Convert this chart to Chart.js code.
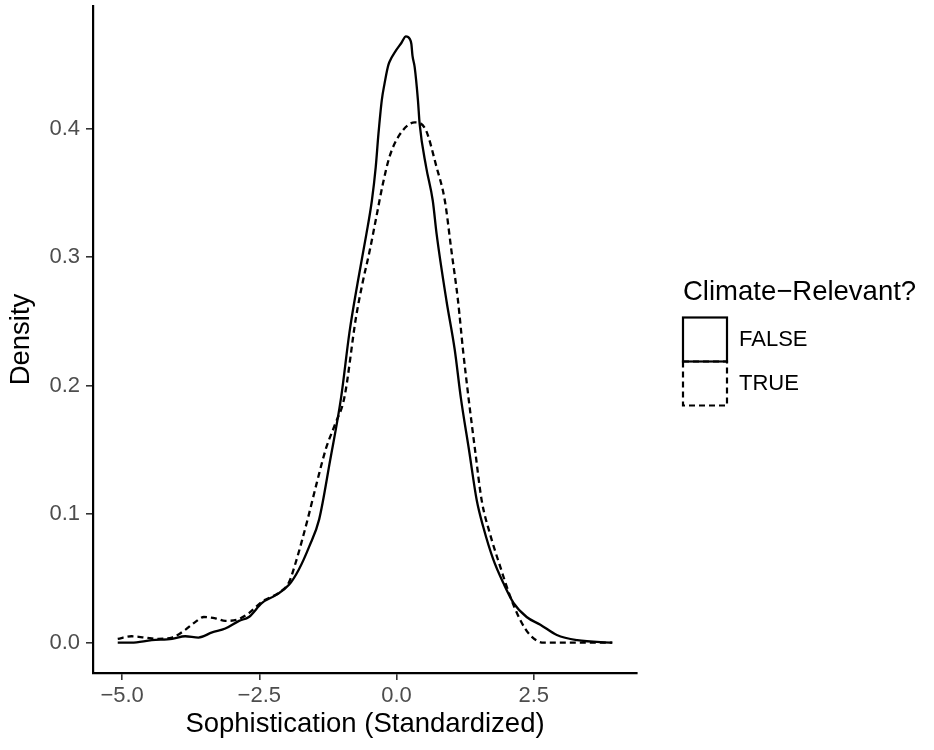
<!DOCTYPE html>
<html>
<head>
<meta charset="utf-8">
<script src="https://cdn.jsdelivr.net/npm/chart.js@4"></script>
<style>
  body { margin: 0; background: #fff; }
  #wrap { width: 934px; height: 750px; }
</style>
</head>
<body>
<div id="wrap"><canvas id="densityChart" width="934" height="750"></canvas></div>
<script>
// density estimates
const xFalse = [-5.08, -4.83, -4.46, -4.09, -3.85, -3.61, -3.36, -3.12, -2.87, -2.69, -2.45, -2.20, -1.96, -1.78, -1.59, -1.41,
  -1.21, -1.01, -0.86, -0.71, -0.55, -0.45, -0.38, -0.33, -0.27, -0.22, -0.16, -0.13, -0.01, 0.09, 0.17, 0.24, 0.27, 0.29,
  0.33, 0.39, 0.42, 0.54, 0.66, 0.73, 0.91, 1.06, 1.17, 1.32, 1.46, 1.58, 1.76, 1.95, 2.13, 2.37, 2.62, 2.92, 3.29, 3.93];
const yFalse = [0.000, 0.000, 0.002, 0.003, 0.005, 0.004, 0.008, 0.011, 0.017, 0.020, 0.031, 0.037, 0.045, 0.057, 0.075, 0.096,
  0.142, 0.191, 0.241, 0.280, 0.318, 0.344, 0.370, 0.396, 0.422, 0.435, 0.448, 0.452, 0.461, 0.467, 0.472, 0.470, 0.466, 0.457,
  0.448, 0.422, 0.404, 0.370, 0.344, 0.318, 0.266, 0.228, 0.191, 0.150, 0.111, 0.090, 0.065, 0.046, 0.031, 0.020, 0.014, 0.006, 0.002, 0.000];

const xTrue = [-5.08, -4.83, -4.58, -4.34, -4.09, -3.85, -3.67, -3.51, -3.30, -3.12, -2.90, -2.69, -2.45, -2.14, -1.96, -1.84,
  -1.72, -1.62, -1.45, -1.28, -1.12, -0.95, -0.74, -0.62, -0.49, -0.37, -0.25, -0.13, 0.05, 0.33, 0.51, 0.73, 0.88, 1.00,
  1.12, 1.21, 1.31, 1.43, 1.55, 1.70, 1.89, 2.07, 2.25, 2.43, 2.68, 2.98, 3.93];
const yTrue = [0.003, 0.005, 0.004, 0.003, 0.004, 0.010, 0.016, 0.020, 0.019, 0.017, 0.018, 0.023, 0.032, 0.039, 0.047, 0.062,
  0.080, 0.096, 0.125, 0.152, 0.170, 0.191, 0.253, 0.280, 0.305, 0.331, 0.357, 0.378, 0.395, 0.405, 0.401, 0.370, 0.344, 0.305,
  0.266, 0.228, 0.191, 0.150, 0.111, 0.085, 0.059, 0.036, 0.018, 0.006, 0.000, 0.000, 0.000];

const xTicks = [-5, -2.5, 0, 2.5];
const xTickLabels = ["\u22125.0", "\u22122.5", "0.0", "2.5"];
const yTicks = [0, 0.1, 0.2, 0.3, 0.4];
const yTickLabels = ["0.0", "0.1", "0.2", "0.3", "0.4"];

const FONT = "'Liberation Sans', Arial, Helvetica, sans-serif";

const toPoints = (xs, ys) => xs.map((x, i) => ({ x: x, y: ys[i] }));

// ggplot-style 5% expansion around the data range
const allX = xFalse.concat(xTrue);
const xLo = Math.min(...allX), xHi = Math.max(...allX);
const yHi = Math.max(...yFalse.concat(yTrue));
const xPad = (xHi - xLo) * 0.05;

const legendPlugin = {
  id: "ggLegend",
  afterDraw(chart) {
    const ctx = chart.ctx;
    const area = chart.chartArea;
    const x0 = area.right + 46;
    const midY = (area.top + area.bottom) / 2;
    ctx.save();
    ctx.fillStyle = "#000";
    ctx.font = "27.5px " + FONT;
    ctx.textBaseline = "middle";
    ctx.textAlign = "left";
    ctx.fillText("Climate\u2212Relevant?", x0, midY - 47);
    const key = 44;
    chart.data.datasets.forEach((ds, i) => {
      const top = midY - 22 + i * key;
      ctx.strokeStyle = "#000";
      ctx.lineWidth = 2.2;
      ctx.setLineDash(ds.borderDash || []);
      ctx.strokeRect(x0, top, key, key);
      ctx.setLineDash([]);
      ctx.fillStyle = "#000";
      ctx.font = "22px " + FONT;
      ctx.fillText(ds.label, x0 + key + 12, top + key / 2);
    });
    ctx.restore();
  }
};

new Chart(document.getElementById("densityChart"), {
  type: "line",
  data: {
    datasets: [
      {
        label: "FALSE",
        data: toPoints(xFalse, yFalse),
        borderColor: "#000",
        borderWidth: 2.3,
        borderDash: [],
        pointRadius: 0,
        cubicInterpolationMode: "monotone",
        fill: false,
      },
      {
        label: "TRUE",
        data: toPoints(xTrue, yTrue),
        borderColor: "#000",
        borderWidth: 2.3,
        borderDash: [6, 4],
        pointRadius: 0,
        cubicInterpolationMode: "monotone",
        fill: false,
      },
    ],
  },
  options: {
    responsive: false,
    animation: false,
    layout: {
      padding: { top: 6, right: 297, bottom: 0, left: 0 },
    },
    plugins: {
      legend: { display: false },
      tooltip: { enabled: false },
    },
    scales: {
      x: {
        type: "linear",
        min: xLo - xPad,
        max: xHi + xPad,
        afterBuildTicks: (axis) => {
          axis.ticks = xTicks.map((v) => ({ value: v }));
        },
        afterFit: (scale) => {
          scale.height = 77;
          scale.paddingLeft = 0;
          scale.paddingRight = 0;
        },
        ticks: {
          callback: (v) => xTickLabels[xTicks.indexOf(v)],
          color: "#4d4d4d",
          font: { family: FONT, size: 22 },
          padding: 3,
          maxRotation: 0,
        },
        grid: { drawOnChartArea: false, drawTicks: true, tickLength: 7, color: "#333", lineWidth: 1.6 },
        border: { display: true, color: "#000", width: 2.2 },
        title: {
          display: true,
          text: "Sophistication (Standardized)",
          color: "#000",
          font: { family: FONT, size: 27.5 },
          padding: { top: 0, bottom: 9.5 },
        },
      },
      y: {
        type: "linear",
        min: -yHi * 0.05,
        max: yHi * 1.05,
        afterBuildTicks: (axis) => {
          axis.ticks = yTicks.map((v) => ({ value: v }));
        },
        afterFit: (scale) => {
          scale.width = 93;
          scale.paddingTop = 0;
          scale.paddingBottom = 0;
        },
        ticks: {
          callback: (v) => yTickLabels[yTicks.indexOf(v)],
          color: "#4d4d4d",
          font: { family: FONT, size: 22 },
          padding: 6,
        },
        grid: { drawOnChartArea: false, drawTicks: true, tickLength: 7, color: "#333", lineWidth: 1.6 },
        border: { display: true, color: "#000", width: 2.2 },
        title: {
          display: true,
          text: "Density",
          color: "#000",
          font: { family: FONT, size: 27.5 },
          padding: { top: 4.5, bottom: 0 },
        },
      },
    },
  },
  plugins: [legendPlugin],
});
</script>
</body>
</html>
